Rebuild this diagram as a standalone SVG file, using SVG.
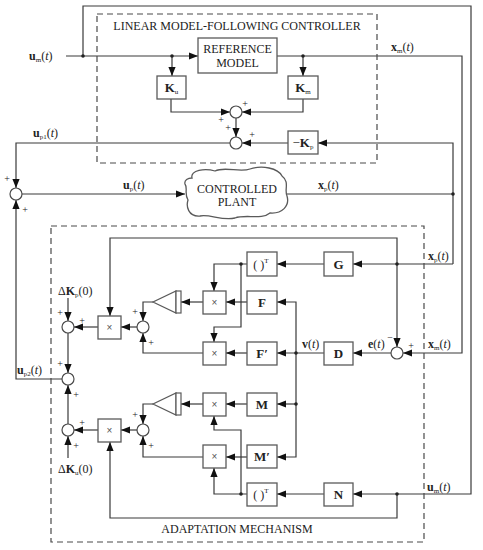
<svg xmlns="http://www.w3.org/2000/svg" width="483" height="550" viewBox="0 0 483 550">
<style>
.ln{fill:none;stroke:#3a3a3a;stroke-width:1.2}
.ar{marker-end:url(#ah)}
.bx{fill:#fff;stroke:#5a5a5a;stroke-width:1.3}
.ds{fill:none;stroke:#4a4a4a;stroke-width:1.2;stroke-dasharray:6,4}
.sm{fill:#fff;stroke:#4a4a4a;stroke-width:1.2}
.t{font-family:"Liberation Serif","Times New Roman",serif;font-size:12px;fill:#222}
.c{text-anchor:middle}
.b{font-weight:bold}
.k{font-family:"Liberation Serif","Times New Roman",serif;font-size:13px;font-weight:bold;fill:#222;text-anchor:middle}
.x{font-family:"Liberation Sans",Arial,sans-serif;font-size:10px;fill:#555;text-anchor:middle}
.p{font-family:"Liberation Serif","Times New Roman",serif;font-size:10px;fill:#222;text-anchor:middle}
.dot{fill:#222}
.tri{fill:#fff;stroke:#5a5a5a;stroke-width:1.2}
</style>
<defs>
<marker id="ah" viewBox="0 0 10 8" refX="10" refY="4" markerWidth="9" markerHeight="7.2" orient="auto" markerUnits="userSpaceOnUse"><path d="M0,0 L10,4 L0,8 z" fill="#111"/></marker>
</defs>

<g id="connectors">
<polyline class="ln ar" points="66,56 198,56"/>
<polyline class="ln ar" points="83,56 83,6 471,6 471,494 353,494"/>
<polyline class="ln ar" points="172,56 172,76"/>
<polyline class="ln ar" points="277,56 462,56 462,353 403,353"/>
<polyline class="ln ar" points="303,56 303,76"/>
<polyline class="ln ar" points="171,99 171,112 230,112"/>
<polyline class="ln ar" points="303,99 303,112 242,112"/>
<polyline class="ln ar" points="236,118 236,137"/>
<polyline class="ln ar" points="453,264 453,143 318,143"/>
<polyline class="ln ar" points="288,143 242,143"/>
<polyline class="ln ar" points="230,143 16,143 16,188"/>
<polyline class="ln ar" points="22,194 185,194"/>
<polyline class="ln" points="287,194 453,194"/>
<polyline class="ln ar" points="62,379 16,379 16,200"/>
<polyline class="ln ar" points="453,264 353,264"/>
<polyline class="ln ar" points="397,264 397,238 110,238 110,316"/>
<polyline class="ln ar" points="397,264 397,347"/>
<polyline class="ln ar" points="324,264 277,264"/>
<polyline class="ln ar" points="247,264 214,264 214,291"/>
<polyline class="ln ar" points="241,264 241,327 214,327 214,342"/>
<polyline class="ln ar" points="391,353 353,353"/>
<polyline class="ln ar" points="324,353 277,353"/>
<polyline class="ln ar" points="296,353 296,302 277,302"/>
<polyline class="ln ar" points="296,353 296,457 277,457"/>
<polyline class="ln ar" points="296,404 277,404"/>
<polyline class="ln ar" points="247,302 226,302"/>
<polyline class="ln ar" points="247,353 226,353"/>
<polyline class="ln ar" points="203,302 181,302"/>
<polyline class="ln ar" points="153,302 143,302 143,321"/>
<polyline class="ln ar" points="203,353 143,353 143,333"/>
<polyline class="ln ar" points="137,327 121,327"/>
<polyline class="ln ar" points="98,327 74,327"/>
<polyline class="ln ar" points="68,298 68,321"/>
<polyline class="ln ar" points="68,333 68,373"/>
<polyline class="ln ar" points="68,424 68,385"/>
<polyline class="ln ar" points="247,404 226,404"/>
<polyline class="ln ar" points="203,404 181,404"/>
<polyline class="ln ar" points="153,404 143,404 143,424"/>
<polyline class="ln ar" points="247,457 226,457"/>
<polyline class="ln ar" points="203,457 143,457 143,436"/>
<polyline class="ln ar" points="137,430 121,430"/>
<polyline class="ln ar" points="98,430 74,430"/>
<polyline class="ln ar" points="68,458 68,436"/>
<polyline class="ln ar" points="324,494 277,494"/>
<polyline class="ln ar" points="247,494 214,494 214,468"/>
<polyline class="ln ar" points="241,494 241,430 214,430 214,416"/>
<polyline class="ln ar" points="397,494 397,518 110,518 110,442"/>
<circle class="dot" cx="83" cy="56" r="1.8"/>
<circle class="dot" cx="172" cy="56" r="1.8"/>
<circle class="dot" cx="303" cy="56" r="1.8"/>
<circle class="dot" cx="453" cy="194" r="1.8"/>
<circle class="dot" cx="397" cy="264" r="1.8"/>
<circle class="dot" cx="241" cy="264" r="1.8"/>
<circle class="dot" cx="296" cy="353" r="1.8"/>
<circle class="dot" cx="296" cy="404" r="1.8"/>
<circle class="dot" cx="241" cy="494" r="1.8"/>
<circle class="dot" cx="397" cy="494" r="1.8"/>
</g>

<g id="linear-controller">
<rect class="ds" x="97" y="14" width="280" height="149"/>
<text class="t c" x="237" y="30">LINEAR MODEL-FOLLOWING CONTROLLER</text>
</g>
<g id="adaptation-mechanism">
<rect class="ds" x="51" y="226" width="373" height="316"/>
<text class="t c" x="237" y="533">ADAPTATION MECHANISM</text>
</g>

<g id="reference-model">
<rect class="bx" x="198" y="38" width="79" height="35"/>
<text class="t c" x="237.5" y="53" font-size="11.5">REFERENCE</text>
<text class="t c" x="237.5" y="67" font-size="11.5">MODEL</text>
</g>
<g id="Ku"><rect class="bx" x="157" y="76" width="29" height="23"/><text class="k" x="171.5" y="92">K<tspan font-size="7" font-weight="normal" dy="2">u</tspan></text></g>
<g id="Km"><rect class="bx" x="288" y="76" width="30" height="23"/><text class="k" x="303" y="92">K<tspan font-size="7" font-weight="normal" dy="2">m</tspan></text></g>
<g id="Kp"><rect class="bx" x="288" y="131" width="30" height="23"/><text class="k" x="303" y="147"><tspan font-weight="normal">−</tspan>K<tspan font-size="7" font-weight="normal" dy="2">p</tspan></text></g>
<g id="sum1"><circle class="sm" cx="236" cy="112" r="6"/><text class="p" x="245" y="107">+</text><text class="p" x="221" y="123">+</text></g>
<g id="sum2"><circle class="sm" cx="236" cy="143" r="6"/><text class="p" x="228" y="131">+</text><text class="p" x="252" y="138">+</text></g>
<g id="sum3"><circle class="sm" cx="16" cy="194" r="6"/><text class="p" x="7" y="182">+</text><text class="p" x="25" y="213">+</text></g>

<g id="plant">
<path class="bx" d="M192,178 C190,170 205,168 215,171 C225,166 240,173 250,169 C262,165 278,168 282,176 C290,182 284,190 287,196 C290,206 282,214 270,213 C262,220 245,214 235,218 C222,221 210,214 200,216 C188,217 186,206 188,200 C184,194 188,188 185,184 C184,180 188,178 192,178 Z"/>
<text class="t c" x="237" y="193">CONTROLLED</text>
<text class="t c" x="237" y="206">PLANT</text>
</g>

<g id="G"><rect class="bx" x="324" y="252" width="29" height="24"/><text class="k" x="338.5" y="269">G</text></g>
<g id="D"><rect class="bx" x="324" y="342" width="29" height="23"/><text class="k" x="338.5" y="358">D</text></g>
<g id="N"><rect class="bx" x="324" y="483" width="29" height="23"/><text class="k" x="338.5" y="499">N</text></g>
<g id="sumE"><circle class="sm" cx="397" cy="353" r="6"/><text class="p" x="390" y="341">−</text><text class="p" x="411" y="349">+</text></g>

<g id="T1"><rect class="bx" x="247" y="252" width="30" height="24"/><text class="t c" x="261" y="269" font-size="13">(  )<tspan font-size="7" dy="-6">T</tspan></text></g>
<g id="F"><rect class="bx" x="247" y="291" width="30" height="23"/><text class="k" x="262" y="307">F</text></g>
<g id="Fp"><rect class="bx" x="247" y="342" width="30" height="23"/><text class="k" x="262" y="358">F′</text></g>
<g id="M"><rect class="bx" x="247" y="393" width="30" height="23"/><text class="k" x="262" y="409">M</text></g>
<g id="Mp"><rect class="bx" x="247" y="445" width="30" height="23"/><text class="k" x="262" y="461">M′</text></g>
<g id="T2"><rect class="bx" x="247" y="483" width="30" height="23"/><text class="t c" x="261" y="499" font-size="13">(  )<tspan font-size="7" dy="-6">T</tspan></text></g>

<g id="mul1"><rect class="bx" x="203" y="291" width="23" height="23"/><text class="x" x="214.5" y="306">×</text></g>
<g id="mul2"><rect class="bx" x="203" y="342" width="23" height="23"/><text class="x" x="214.5" y="357">×</text></g>
<g id="mul3"><rect class="bx" x="203" y="393" width="23" height="23"/><text class="x" x="214.5" y="408">×</text></g>
<g id="mul4"><rect class="bx" x="203" y="445" width="23" height="23"/><text class="x" x="214.5" y="460">×</text></g>
<g id="mulP"><rect class="bx" x="98" y="316" width="23" height="23"/><text class="x" x="109.5" y="331">×</text></g>
<g id="mulU"><rect class="bx" x="98" y="419" width="23" height="23"/><text class="x" x="109.5" y="434">×</text></g>

<g id="int1"><polygon class="tri" points="176,291 176,313 153,302"/><rect class="tri" x="176" y="291" width="5" height="22"/></g>
<g id="int2"><polygon class="tri" points="176,393 176,415 153,404"/><rect class="tri" x="176" y="393" width="5" height="22"/></g>

<g id="sumA"><circle class="sm" cx="143" cy="327" r="6"/><text class="p" x="135" y="315">+</text><text class="p" x="151" y="346">+</text></g>
<g id="sumB"><circle class="sm" cx="143" cy="430" r="6"/><text class="p" x="135" y="418">+</text><text class="p" x="151" y="449">+</text></g>
<g id="sumKp"><circle class="sm" cx="68" cy="327" r="6"/><text class="p" x="60" y="316">+</text><text class="p" x="82" y="324">+</text></g>
<g id="sumUp2"><circle class="sm" cx="68" cy="379" r="6"/><text class="p" x="60" y="367">+</text><text class="p" x="76" y="398">+</text></g>
<g id="sumKu"><circle class="sm" cx="68" cy="430" r="6"/><text class="p" x="82" y="426">+</text><text class="p" x="76" y="449">+</text></g>

<g id="labels">
<text class="t" x="29" y="60"><tspan class="b">u</tspan><tspan font-size="7" dy="2">m</tspan><tspan dy="-2">(</tspan><tspan font-style="italic">t</tspan>)</text>
<text class="t" x="391" y="51"><tspan class="b">x</tspan><tspan font-size="7" dy="2">m</tspan><tspan dy="-2">(</tspan><tspan font-style="italic">t</tspan>)</text>
<text class="t" x="33" y="137"><tspan class="b">u</tspan><tspan font-size="7" dy="2">p1</tspan><tspan dy="-2">(</tspan><tspan font-style="italic">t</tspan>)</text>
<text class="t" x="123" y="189"><tspan class="b">u</tspan><tspan font-size="7" dy="2">p</tspan><tspan dy="-2">(</tspan><tspan font-style="italic">t</tspan>)</text>
<text class="t" x="318" y="189"><tspan class="b">x</tspan><tspan font-size="7" dy="2">p</tspan><tspan dy="-2">(</tspan><tspan font-style="italic">t</tspan>)</text>
<text class="t" x="428" y="260"><tspan class="b">x</tspan><tspan font-size="7" dy="2">p</tspan><tspan dy="-2">(</tspan><tspan font-style="italic">t</tspan>)</text>
<text class="t" x="428" y="348"><tspan class="b">x</tspan><tspan font-size="7" dy="2">m</tspan><tspan dy="-2">(</tspan><tspan font-style="italic">t</tspan>)</text>
<text class="t" x="368" y="348"><tspan class="b">e</tspan>(<tspan font-style="italic">t</tspan>)</text>
<text class="t" x="302" y="348"><tspan class="b">v</tspan>(<tspan font-style="italic">t</tspan>)</text>
<text class="t" x="17" y="374"><tspan class="b">u</tspan><tspan font-size="7" dy="2">p2</tspan><tspan dy="-2">(</tspan><tspan font-style="italic">t</tspan>)</text>
<text class="t" x="427" y="491"><tspan class="b">u</tspan><tspan font-size="7" dy="2">m</tspan><tspan dy="-2">(</tspan><tspan font-style="italic">t</tspan>)</text>
<text class="t" x="58" y="295">Δ<tspan class="b">K</tspan><tspan font-size="7" dy="2">p</tspan><tspan dy="-2">(0)</tspan></text>
<text class="t" x="58" y="473">Δ<tspan class="b">K</tspan><tspan font-size="7" dy="2">u</tspan><tspan dy="-2">(0)</tspan></text>
</g>
</svg>
